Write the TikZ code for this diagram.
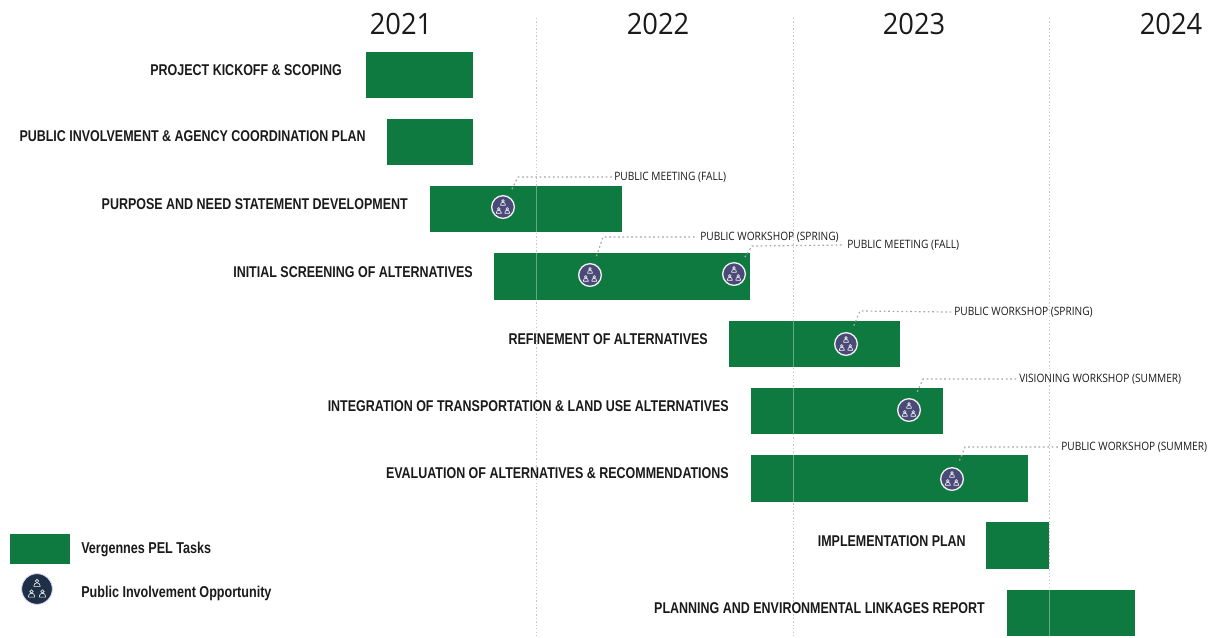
\documentclass[tikz,border=0pt]{standalone}
\usepackage{fontspec}
\setmainfont{Liberation Sans}
\newfontfamily\taskfont[FakeStretch=0.80]{Liberation Sans}
\newfontfamily\eventfont[FakeStretch=0.88]{Open Sans}
\newfontfamily\yearfont[FakeStretch=0.93]{Open Sans}
\definecolor{barg}{HTML}{0E7A40}
\definecolor{iconv}{HTML}{4A4A78}
\definecolor{icond}{HTML}{1F2F45}
\definecolor{gridc}{HTML}{C4C8C8}
\definecolor{conn}{HTML}{A8A8A8}
\definecolor{labc}{HTML}{1A1A1A}
\tikzset{
  bar/.style={fill=barg,draw=none},
  tasklabel/.style={anchor=east,inner sep=0pt,text=labc,font=\taskfont\bfseries\fontsize{11.7pt}{13pt}\selectfont},
  legendlabel/.style={anchor=west,inner sep=0pt,text=labc,font=\taskfont\bfseries\fontsize{11.8pt}{13pt}\selectfont},
  eventlabel/.style={anchor=west,inner sep=0pt,text=labc,font=\eventfont\fontsize{8.65pt}{10pt}\selectfont},
  yearlabel/.style={inner sep=0pt,text=labc,font=\yearfont\fontsize{22pt}{24pt}\selectfont},
  gridline/.style={gridc,dash pattern=on 1pt off 1.6pt,line width=0.7pt},
  gridover/.style={white,opacity=.35,line width=0.6pt},
  leader/.style={conn,dash pattern=on 1.3pt off 2pt,line width=0.9pt,shorten <=6pt},
  icon/.style={circle,fill=iconv,draw=white!88!gray,line width=1pt,minimum size=17pt,inner sep=0pt},
  iconleg/.style={circle,fill=icond,draw=white!85!blue,line width=.6pt,minimum size=23pt,inner sep=0pt},
  person/.style={draw=white!90!gray,line width=.45pt,fill=none}
}
\newcommand{\onefig}[3]{%
  \draw[person] (#1,#2-1.2*#3) circle[radius=.8*#3];
  \draw[person] (#1-1.5*#3,#2+1.5*#3) -- ++(0,-.4*#3) arc[start angle=180,end angle=360,radius=1.5*#3] -- ++(0,.4*#3) -- cycle;
}
\newcommand{\crowd}[2]{%
  \begin{scope}[shift={(#1.center)}]
    \onefig{0}{-4.2*#2}{1.6*#2}
    \onefig{-4.2*#2}{3.8*#2}{1.6*#2}
    \onefig{4.2*#2}{3.8*#2}{1.6*#2}
  \end{scope}}
\begin{document}
\begin{tikzpicture}[x=0.75pt,y=-0.75pt]
\useasboundingbox (0,0) rectangle (1214,637);
% years
\node[yearlabel] (y21) at (401,24) {2021};
\node[yearlabel] (y22) at (658,24) {2022};
\node[yearlabel] (y23) at (914,24) {2023};
\node[yearlabel] (y24) at (1171,24) {2024};
% grid below bars
\foreach \g in {536,793,1049} \draw[gridline] (\g,18) -- (\g,637);
% bars
\fill[bar] (366,52) rectangle (473,98);
\fill[bar] (387,119) rectangle (473,165);
\fill[bar] (430,186) rectangle (622,232);
\fill[bar] (494,253) rectangle (750,300);
\fill[bar] (729,321) rectangle (900,367);
\fill[bar] (751,388) rectangle (943,434);
\fill[bar] (751,455) rectangle (1028,502);
\fill[bar] (986,522) rectangle (1049,569);
\fill[bar] (1007,590) rectangle (1135,636);
\fill[bar] (10,534) rectangle (70,564);
% grid seen faintly through bars
\draw[gridover] (536,186) -- (536,232);
\draw[gridover] (536,253) -- (536,300);
\draw[gridover] (793,321) -- (793,367);
\draw[gridover] (793,388) -- (793,434);
\draw[gridover] (793,455) -- (793,502);
\draw[gridover] (1049,590) -- (1049,636);
% task labels
\node[tasklabel] (t1) at (342,70) {PROJECT KICKOFF \& SCOPING};
\node[tasklabel] (t2) at (366,136) {PUBLIC INVOLVEMENT \& AGENCY COORDINATION PLAN};
\node[tasklabel] (t3) at (408,204) {PURPOSE AND NEED STATEMENT DEVELOPMENT};
\node[tasklabel] (t4) at (473,272) {INITIAL SCREENING OF ALTERNATIVES};
\node[tasklabel] (t5) at (708,339) {REFINEMENT OF ALTERNATIVES};
\node[tasklabel] (t6) at (729,406) {INTEGRATION OF TRANSPORTATION \& LAND USE ALTERNATIVES};
\node[tasklabel] (t7) at (729,473) {EVALUATION OF ALTERNATIVES \& RECOMMENDATIONS};
\node[tasklabel] (t8) at (966,541) {IMPLEMENTATION PLAN};
\node[tasklabel] (t9) at (985,608) {PLANNING AND ENVIRONMENTAL LINKAGES REPORT};
% icons
\node[icon] (i1) at (503,207) {}; \crowd{i1}{1}
\node[icon] (i2) at (590,275) {}; \crowd{i2}{1}
\node[icon] (i3) at (734,274) {}; \crowd{i3}{1}
\node[icon] (i4) at (846,344) {}; \crowd{i4}{1}
\node[icon] (i5) at (909,410) {}; \crowd{i5}{1}
\node[icon] (i6) at (952,479) {}; \crowd{i6}{1}
% event labels
\node[eventlabel] (e1) at (614,177) {PUBLIC MEETING (FALL)};
\node[eventlabel] (e2) at (700,237) {PUBLIC WORKSHOP (SPRING)};
\node[eventlabel] (e3) at (847,245) {PUBLIC MEETING (FALL)};
\node[eventlabel] (e4) at (954,312) {PUBLIC WORKSHOP (SPRING)};
\node[eventlabel] (e5) at (1019,379) {VISIONING WORKSHOP (SUMMER)};
\node[eventlabel] (e6) at (1061,447) {PUBLIC WORKSHOP (SUMMER)};
% leaders
\coordinate (b1) at (518,177);
\coordinate (b2) at (603,237);
\coordinate (b3) at (752,246);
\coordinate (b4) at (860,311);
\coordinate (b5) at (923,379);
\coordinate (b6) at (965,447);
\draw[leader] (i1) -- (b1) -- (e1.west -| 612,177);
\draw[leader] (i2) -- (b2) -- (e2.west -| 697,237);
\draw[leader] (i3) -- (b3) -- (e3.west -| 844,246);
\draw[leader] (i4) -- (b4) -- (e4.west -| 951,311);
\draw[leader] (i5) -- (b5) -- (e5.west -| 1016,379);
\draw[leader] (i6) -- (b6) -- (e6.west -| 1058,447);
% legend
\node[iconleg] (li) at (37,589) {}; \crowd{li}{1.3}
\node[legendlabel] (l1) at (81,549.5) {Vergennes PEL Tasks};
\node[legendlabel] (l2) at (81,593) {Public Involvement Opportunity};
\end{tikzpicture}
\end{document}
